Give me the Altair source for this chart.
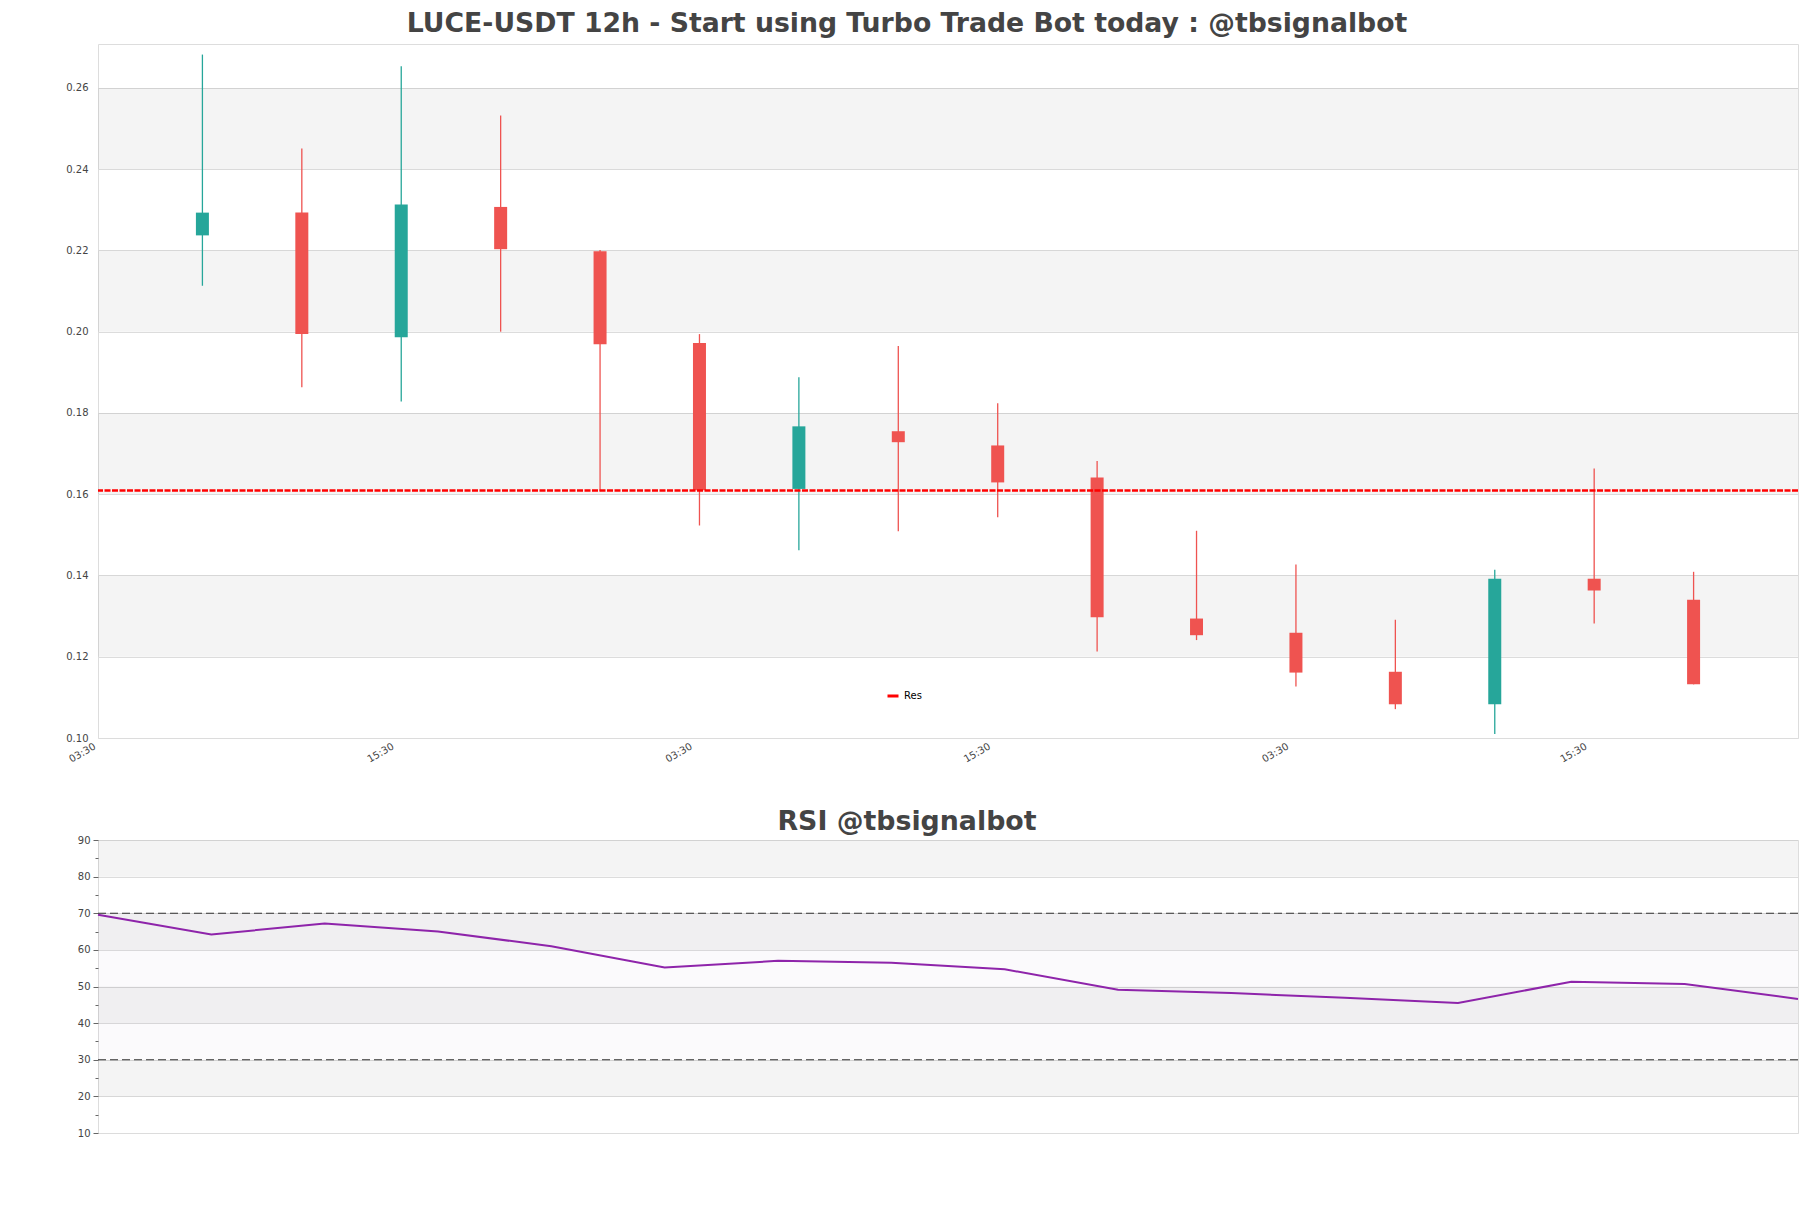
import altair as alt
import pandas as pd

# ---------------- data ----------------
candle_hours = [12, 24, 36, 48, 60, 72, 84, 96, 108, 120, 132, 144, 156, 168, 180, 192]
opens  = [0.2237, 0.2293, 0.1986, 0.2307, 0.2198, 0.1972, 0.1613, 0.1755, 0.1720, 0.1641, 0.1294, 0.1259, 0.1163, 0.1083, 0.1392, 0.1340]
highs  = [0.2682, 0.2451, 0.2653, 0.2532, 0.2201, 0.1994, 0.1888, 0.1965, 0.1824, 0.1682, 0.1510, 0.1427, 0.1291, 0.1414, 0.1663, 0.1409]
lows   = [0.2113, 0.1863, 0.1828, 0.2000, 0.1607, 0.1523, 0.1462, 0.1509, 0.1543, 0.1213, 0.1241, 0.1127, 0.1071, 0.1010, 0.1282, 0.1132]
closes = [0.2293, 0.1994, 0.2313, 0.2203, 0.1969, 0.1610, 0.1767, 0.1728, 0.1629, 0.1297, 0.1253, 0.1161, 0.1083, 0.1392, 0.1363, 0.1132]

res_level = [0.1609]
res_name = ["Res"]

x_domain = [0, 204]
tick_hours = [0, 36, 72, 108, 144, 180]
tick_labels = ["03:30", "15:30", "03:30", "15:30", "03:30", "15:30"]

price_domain = [0.10, 0.2708]
price_ticks = [0.10, 0.12, 0.14, 0.16, 0.18, 0.20, 0.22, 0.24, 0.26]
price_band_lo = [0.12, 0.16, 0.20, 0.24]
price_band_hi = [0.14, 0.18, 0.22, 0.26]

rsi_index = [0, 1, 2, 3, 4, 5, 6, 7, 8, 9, 10, 11, 12, 13, 14, 15]
rsi_values = [69.6, 64.2, 67.2, 65.0, 61.0, 55.2, 57.0, 56.5, 54.7, 49.1, 48.2, 46.9, 45.5, 51.3, 50.7, 46.6]
rsi_domain = [10, 90]
rsi_ticks = [10, 15, 20, 25, 30, 35, 40, 45, 50, 55, 60, 65, 70, 75, 80, 85, 90]
rsi_band_lo = [20, 40, 60, 80]
rsi_band_hi = [30, 50, 70, 90]
rsi_levels = [70, 30]
rsi_zone = [30, 70]

GREEN = "#26a69a"
RED = "#ef5350"
FONT = "DejaVu Sans"
W = 1700
TOP_H = 694
RSI_H = 293

# ---------------- frames ----------------
candles = pd.DataFrame({"hour": candle_hours, "open": opens, "high": highs,
                        "low": lows, "close": closes})
candles["col"] = [GREEN if c >= o else RED for o, c in zip(opens, closes)]
res_df = pd.DataFrame({"level": res_level, "name": res_name})
pbands = pd.DataFrame({"lo": price_band_lo, "hi": price_band_hi})
rsi_df = pd.DataFrame({"idx": rsi_index, "rsi": rsi_values})
rbands = pd.DataFrame({"lo": rsi_band_lo, "hi": rsi_band_hi})
rlevels = pd.DataFrame({"lvl": rsi_levels})
rzone = pd.DataFrame({"lo": [rsi_zone[0]], "hi": [rsi_zone[1]]})

label_expr = "[" + ",".join("'%s'" % l for l in tick_labels) + "][indexof([" + \
    ",".join(str(h) for h in tick_hours) + "], datum.value)]"

x_axis = alt.Axis(values=tick_hours, labelExpr=label_expr, labelAngle=330,
                  labelAlign="right", labelBaseline="top", labelOffset=-11,
                  ticks=False, grid=False,
                  domain=False, labelFontSize=10, labelColor="#444", labelFont=FONT,
                  labelPadding=3, title=None)
x_scale = alt.Scale(domain=x_domain, nice=False, zero=False)

y_axis = alt.Axis(values=price_ticks, format=".2f", ticks=False, domain=False,
                  grid=True, gridColor="#dcdcdc", gridWidth=1,
                  labelFontSize=10, labelColor="#444", labelFont=FONT,
                  labelPadding=10, title=None)
y_scale = alt.Scale(domain=price_domain, nice=False, zero=False)

bands = alt.Chart(pbands).mark_rect(color="#000000", opacity=0.045).encode(
    x=alt.value(0), x2=alt.value(W),
    y=alt.Y("lo:Q", scale=y_scale, axis=y_axis), y2="hi:Q")

wicks = alt.Chart(candles).mark_rule(strokeWidth=1.3).encode(
    x=alt.X("hour:Q", scale=x_scale, axis=x_axis),
    y=alt.Y("low:Q", scale=y_scale, axis=y_axis), y2="high:Q",
    color=alt.Color("col:N", scale=None))

bodies = alt.Chart(candles).mark_bar(size=13).encode(
    x=alt.X("hour:Q", scale=x_scale, axis=x_axis),
    y=alt.Y("open:Q", scale=y_scale, axis=y_axis), y2="close:Q",
    color=alt.Color("col:N", scale=None))

res = alt.Chart(res_df).mark_rule(strokeWidth=2.5, strokeDash=[6, 1.5]).encode(
    y=alt.Y("level:Q", scale=y_scale, axis=y_axis),
    color=alt.Color("name:N", scale=alt.Scale(domain=res_name, range=["#ff0000"]),
                    legend=alt.Legend(orient="none", legendX=788, legendY=645, title=None,
                                      symbolType="stroke", symbolStrokeWidth=3,
                                      symbolSize=121, symbolDash=[1, 0],
                                      labelFontSize=10, labelFont=FONT,
                                      labelColor="#000", padding=0)))

top = alt.layer(bands, wicks, bodies, res).resolve_scale(color="independent").properties(
    width=W, height=TOP_H,
    title=alt.TitleParams("LUCE-USDT 12h - Start using Turbo Trade Bot today : @tbsignalbot",
                          fontSize=26.7, font=FONT, fontWeight="bold", color="#444444",
                          anchor="middle", dx=-41, offset=6))

# ---------------- RSI ----------------
rx_scale = alt.Scale(domain=[rsi_index[0], rsi_index[-1]], nice=False, zero=False)
ry_scale = alt.Scale(domain=rsi_domain, nice=False, zero=False)
ry_axis = alt.Axis(values=rsi_ticks,
                   labelExpr="datum.value % 10 === 0 ? datum.label : ''",
                   grid=True, gridColor="#dcdcdc",
                   gridOpacity={"condition": {"test": "datum.value % 10 === 0", "value": 1}, "value": 0},
                   tickSize={"condition": {"test": "datum.value % 10 === 0", "value": 5}, "value": 3},
                   tickColor="#666", domain=False, labelFontSize=10, labelColor="#444",
                   labelFont=FONT, labelPadding=3, title=None)

rb = alt.Chart(rbands).mark_rect(color="#000000", opacity=0.045).encode(
    x=alt.value(0), x2=alt.value(W),
    y=alt.Y("lo:Q", scale=ry_scale, axis=ry_axis), y2="hi:Q")
rz = alt.Chart(rzone).mark_rect(color="#7a5c96", opacity=0.03).encode(
    x=alt.value(0), x2=alt.value(W),
    y=alt.Y("lo:Q", scale=ry_scale, axis=ry_axis), y2="hi:Q")
rl = alt.Chart(rlevels).mark_rule(color="#333333", strokeWidth=1.2, strokeDash=[8, 4]).encode(
    y=alt.Y("lvl:Q", scale=ry_scale, axis=ry_axis))
line = alt.Chart(rsi_df).mark_line(color="#8e24aa", strokeWidth=2).encode(
    x=alt.X("idx:Q", scale=rx_scale, axis=None),
    y=alt.Y("rsi:Q", scale=ry_scale, axis=ry_axis))

rsi = alt.layer(rb, rz, rl, line).properties(
    width=W, height=RSI_H,
    title=alt.TitleParams("RSI @tbsignalbot", fontSize=26.8, font=FONT, fontWeight="bold",
                          color="#444444", anchor="middle", dx=-41, offset=-1))

chart = alt.vconcat(top, rsi, spacing=43).properties(
    padding={"left": 65, "top": 10, "right": 0, "bottom": 5}
).configure_view(stroke="#dcdcdc").configure(background="white")

chart.save("out.html", embed_options={"renderer": "svg", "actions": False})
